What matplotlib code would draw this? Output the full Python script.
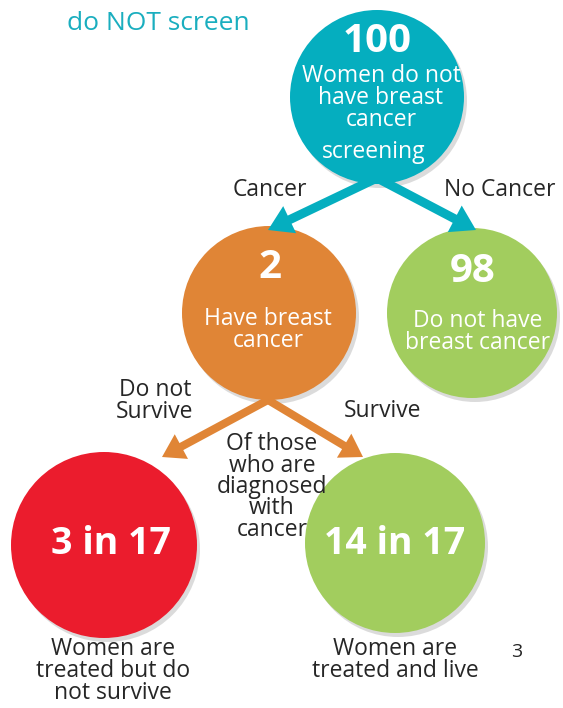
import matplotlib
matplotlib.use("Agg")
import matplotlib.pyplot as plt
from matplotlib.patches import Circle, FancyArrow

plt.rcParams['font.family'] = ['Open Sans', 'DejaVu Sans']

# ---- data ----
node_values = ["100", "2", "98", "3 in 17", "14 in 17"]
node_texts = ["Women do not\nhave breast\ncancer", "Have breast\ncancer",
              "Do not have\nbreast cancer", "", ""]
node_colors = ["#05aebf", "#e08536", "#a2cd5e", "#eb1c2d", "#a2cd5e"]
edge_labels = ["Cancer", "No Cancer", "Do not\nSurvive", "Survive"]
title_text = "do NOT screen"
middle_note = "Of those\nwho are\ndiagnosed\nwith\ncancer"
bottom_captions = ["Women are\ntreated but do\nnot survive", "Women are\ntreated and live"]
page_number = "3"

W, H = 563, 708
fig = plt.figure(figsize=(W / 100, H / 100), dpi=100)
ax = fig.add_axes([0, 0, 1, 1])
ax.set_xlim(0, W)
ax.set_ylim(H, 0)
ax.axis('off')

dark = "#262626"
fs = 16.5
big = 29

# circle geometry (center x, center y, radius)
geo = [(377, 97, 87), (269, 313, 87), (472, 313, 85), (104, 545, 93), (395, 543, 90)]

for (cx, cy, r), col in zip(geo, node_colors):
    ax.add_patch(Circle((cx + 3, cy + 4), r, color="#9a9a9a", alpha=0.35, zorder=1, lw=0))
    ax.add_patch(Circle((cx, cy), r, color=col, zorder=2, lw=0))

# arrows
def arrow(x0, y0, x1, y1, col, w, hw, hl):
    ax.add_patch(FancyArrow(x0, y0, x1 - x0, y1 - y0, width=w, head_width=hw,
                            head_length=hl, length_includes_head=True,
                            color=col, lw=0, zorder=3))

arrow(377, 178, 268, 230, node_colors[0], 9, 30, 24)
arrow(377, 178, 476, 230, node_colors[0], 9, 30, 24)
arrow(268, 400, 162, 457, node_colors[1], 8, 28, 22)
arrow(268, 400, 363, 457, node_colors[1], 8, 28, 22)

# title
ax.text(158, 23, title_text, color="#1aaebf", fontsize=19, ha="center", va="center", zorder=5)

# node numbers and texts
ax.text(377, 41, node_values[0], color="white", fontsize=big, fontweight="bold", ha="center", va="center", zorder=5)
ax.text(381, 98, node_texts[0], color="white", fontsize=fs, ha="center", va="center",
        linespacing=0.88, zorder=5)
ax.text(374, 152, "screening", color="white", fontsize=fs, ha="center", va="center", zorder=5)

ax.text(270, 268, node_values[1], color="white", fontsize=big, fontweight="bold", ha="center", va="center", zorder=5)
ax.text(268, 330, node_texts[1], color="white", fontsize=fs, ha="center", va="center",
        linespacing=0.88, zorder=5)

ax.text(473, 272, node_values[2], color="white", fontsize=big, fontweight="bold", ha="center", va="center", zorder=5)
ax.text(478, 332, node_texts[2], color="white", fontsize=fs, ha="center", va="center",
        linespacing=0.88, zorder=5)

ax.text(111, 544, node_values[3], color="white", fontsize=27, fontweight="bold", ha="center", va="center", zorder=5)
ax.text(395, 544, node_values[4], color="white", fontsize=27, fontweight="bold", ha="center", va="center", zorder=5)

# edge labels
ax.text(270, 190, edge_labels[0], color=dark, fontsize=fs, ha="center", va="center", zorder=5)
ax.text(500, 190, edge_labels[1], color=dark, fontsize=fs, ha="center", va="center", zorder=5)
ax.text(155, 401, edge_labels[2], color=dark, fontsize=fs, ha="center", va="center",
        linespacing=0.92, zorder=5)
ax.text(383, 411, edge_labels[3], color=dark, fontsize=fs, ha="center", va="center", zorder=5)

ax.text(272, 487, middle_note, color=dark, fontsize=fs, ha="center", va="center",
        linespacing=0.85, zorder=6)

ax.text(113, 671, bottom_captions[0], color=dark, fontsize=fs, ha="center", va="center",
        linespacing=0.9, zorder=5)
ax.text(395, 660, bottom_captions[1], color=dark, fontsize=fs, ha="center", va="center",
        linespacing=0.9, zorder=5)
ax.text(517, 652, page_number, color=dark, fontsize=14, ha="center", va="center", zorder=5)

fig.savefig("out.png", dpi=100)
